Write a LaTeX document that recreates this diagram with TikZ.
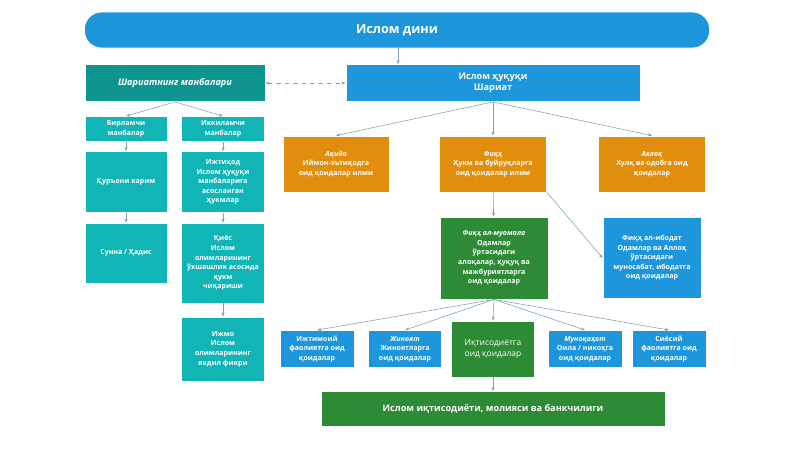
\documentclass[tikz,border=0pt]{standalone}
\usepackage{fontspec}
\setmainfont{Open Sans}
\usetikzlibrary{positioning,arrows.meta}
\definecolor{islblue}{HTML}{1E96DC}
\definecolor{islteal}{HTML}{12B5B5}
\definecolor{islteald}{HTML}{0E9590}
\definecolor{islorange}{HTML}{E08E0B}
\definecolor{islgreen}{HTML}{2E8B35}
\definecolor{linkcol}{HTML}{7FA3B8}
\begin{document}
\begin{tikzpicture}[
	%	style def
    x=0.025cm, y=-0.025cm,
    box/.style={draw=white, line width=0.6pt, text=white, align=center, inner sep=1pt,
      font=\fontsize{5}{6.8}\selectfont\bfseries},
    bluebox/.style={box, fill=islblue},
    tealbox/.style={box, fill=islteal},
    orangebox/.style={box, fill=islorange},
    greenbox/.style={box, fill=islgreen},
    link/.style={draw=linkcol, thin, -{Stealth[length=3pt]}}
    ]
    \useasboundingbox (0,0) rectangle (800,450);
    \fill[white] (0,0) rectangle (800,450);

	% top
    \node[bluebox, rounded corners=12pt, minimum width=625*0.025cm, minimum height=36*0.025cm,
      font=\fontsize{9}{10}\selectfont\bfseries] (din) at (397,30) {Ислом дини};
    \node[bluebox, minimum width=294*0.025cm, minimum height=37*0.025cm,
      font=\fontsize{6.5}{8}\selectfont\bfseries] (huquq) at (493,83) {Ислом ҳуқуқи\\Шариат};
    \node[box, fill=islteald, minimum width=180*0.025cm, minimum height=37*0.025cm,
      font=\fontsize{6.5}{8}\selectfont\bfseries\itshape] (manba) at (175,83) {Шариатнинг манбалари};
    \coordinate (dinfoot) at (398,48);

	% sources
    \node[tealbox, minimum width=82*0.025cm, minimum height=25*0.025cm] (birl) at (126,129) {Бирламчи\\манбалар};
    \node[tealbox, minimum width=83*0.025cm, minimum height=25*0.025cm] (ikki) at (223,129) {Иккиламчи\\манбалар};
    \node[tealbox, minimum width=82*0.025cm, minimum height=61*0.025cm] (quron) at (126,182) {Қуръони карим};
    \node[tealbox, minimum width=82*0.025cm, minimum height=60*0.025cm] (sunna) at (126,253) {Сунна / Ҳадис};
    \node[tealbox, minimum width=83*0.025cm, minimum height=61*0.025cm] (ijtihod) at (223,182) {Ижтиҳод\\Ислом ҳуқуқи\\манбаларига\\асосланган\\ҳукмлар};
    \node[tealbox, minimum width=83*0.025cm, minimum height=80*0.025cm] (qiyos) at (223,263) {Қиёс\\Ислом\\олимларининг\\ўхшашлик асосида\\ҳукм\\чиқариши};
    \node[tealbox, minimum width=83*0.025cm, minimum height=64*0.025cm] (ijmo) at (223,349) {Ижмо\\Ислом\\олимларининг\\якдил фикри};

	% sciences
    \node[orangebox, minimum width=106*0.025cm, minimum height=56*0.025cm] (aqida) at (336,164) {\textit{Ақида}\\Иймон-эътиқодга\\оид қоидалар илми};
    \node[orangebox, minimum width=107*0.025cm, minimum height=56*0.025cm] (fiqh) at (493,164) {\textit{Фиқҳ}\\Ҳукм ва буйруқларга\\оид қоидалар илми};
    \node[orangebox, minimum width=107*0.025cm, minimum height=56*0.025cm] (axloq) at (652,164) {\textit{Ахлоқ}\\Хулқ ва одобга оид\\қоидалар};
    \node[greenbox, minimum width=108*0.025cm, minimum height=82*0.025cm] (muomala) at (494,258) {\textit{Фиқҳ ал-муомала}\\Одамлар\\ўртасидаги\\алоқалар, ҳуқуқ ва\\мажбуриятларга\\оид қоидалар};
    \node[bluebox, minimum width=98*0.025cm, minimum height=81*0.025cm] (ibodat) at (652,258) {Фиқҳ ал-ибодат\\Одамлар ва Аллоҳ\\ўртасидаги\\муносабат, ибодатга\\оид қоидалар};

	% branches
    \node[bluebox, minimum width=74*0.025cm, minimum height=37*0.025cm] (ijtim) at (317,349) {Ижтимоий\\фаолиятга оид\\қоидалар};
    \node[bluebox, minimum width=73*0.025cm, minimum height=37*0.025cm] (jinoyat) at (405,349) {\textit{Жиноят}\\Жиноятларга\\оид қоидалар};
    \node[greenbox, minimum width=83*0.025cm, minimum height=56*0.025cm,
      font=\fontsize{6}{7.5}\selectfont] (iqtisod) at (493,349) {Иқтисодиётга\\оид қоидалар};
    \node[bluebox, minimum width=74*0.025cm, minimum height=37*0.025cm] (munokahot) at (585,349) {\textit{Муноқаҳот}\\Оила / никоҳга\\оид қоидалар};
    \node[bluebox, minimum width=74*0.025cm, minimum height=37*0.025cm] (siyosat) at (669,349) {Сиёсий\\фаолиятга оид\\қоидалар};
    \node[greenbox, minimum width=344*0.025cm, minimum height=35*0.025cm,
      font=\fontsize{6.5}{8}\selectfont\bfseries] (bank) at (493,409) {Ислом иқтисодиёти, молияси ва банкчилиги};

	% connections
    \draw[link] (dinfoot) -- (dinfoot |- huquq.north);
    \draw[draw=linkcol, dashed, {Stealth[length=3pt]}-{Stealth[length=3pt]}] (manba) -- (huquq);
    \draw[link] (manba.south) -- (birl.north);
    \draw[link] (manba.south) -- (ikki.north);
    \draw[link] (birl) -- (quron);
    \draw[link] (quron) -- (sunna);
    \draw[link] (ikki) -- (ijtihod);
    \draw[link] (ijtihod) -- (qiyos);
    \draw[link] (qiyos) -- (ijmo);
    \foreach \t in {aqida, fiqh, axloq}
        \draw[link] (huquq.south) -- (\t.north);
    \draw[link] (fiqh) -- (muomala);
    \draw[link] (fiqh.south east) -- (ibodat.west);
    \foreach \t in {ijtim, jinoyat, iqtisod, munokahot, siyosat}
        \draw[link] (muomala.south) -- (\t.north);
    \draw[link] (iqtisod) -- (bank);
\end{tikzpicture}
\end{document}
